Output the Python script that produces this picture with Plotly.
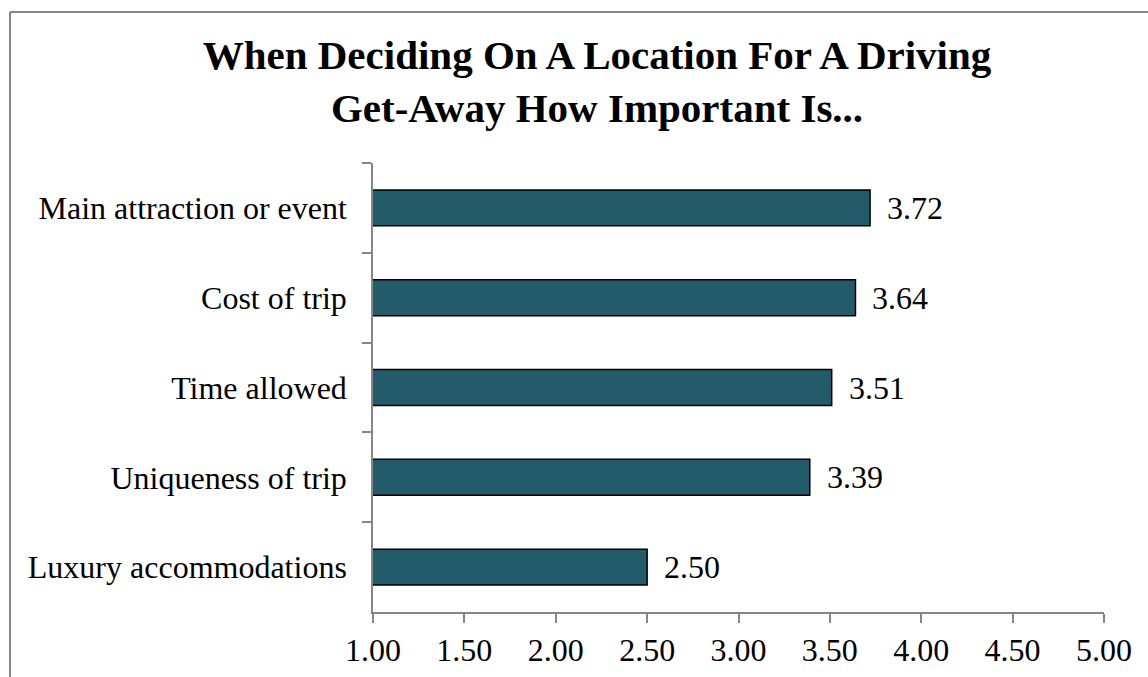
import plotly.graph_objects as go

categories = ["Main attraction or event", "Cost of trip", "Time allowed",
              "Uniqueness of trip", "Luxury accommodations"]
values = [3.72, 3.64, 3.51, 3.39, 2.50]
x_ticks = [1.0, 1.5, 2.0, 2.5, 3.0, 3.5, 4.0, 4.5, 5.0]
title_text = "When Deciding On A Location For A Driving<br>Get-Away How Important Is..."

W, H = 1148, 677
FONT = "Liberation Serif, Times New Roman, serif"
AXIS_GRAY = "#868686"

fig = go.Figure()
fig.add_trace(go.Bar(
    x=values, y=categories, orientation="h", width=0.4,
    marker=dict(color="#235B6B", line=dict(color="#000000", width=1.5)),
    hoverinfo="x+y",
))

for c, v in zip(categories, values):
    fig.add_annotation(x=v, y=c, xref="x", yref="y", text=f"{v:.2f}",
                       showarrow=False, xanchor="left", xshift=15,
                       font=dict(family=FONT, size=32, color="#000000"))

bx, by = 10 / W, 1 - 12 / H
fig.update_layout(
    width=W, height=H,
    margin=dict(l=0, r=0, t=0, b=0, autoexpand=False),
    paper_bgcolor="white", plot_bgcolor="white",
    showlegend=False,
    font=dict(family=FONT, size=32, color="#000000"),
    title=dict(text=title_text, x=597 / W, xanchor="center",
               y=1 - 69 / H, yanchor="top", yref="paper",
               font=dict(family=FONT, size=41, color="#000000", weight="bold")),
    xaxis=dict(domain=[373 / W, 1104 / W], range=[1, 5],
               tickvals=x_ticks, ticktext=[f"{t:.2f}" for t in x_ticks],
               showgrid=False, zeroline=False,
               showline=True, linecolor=AXIS_GRAY, linewidth=1.5,
               ticks="outside", ticklen=9, tickcolor=AXIS_GRAY, tickwidth=1.5,
               ticklabelstandoff=0,
               tickfont=dict(family=FONT, size=32)),
    yaxis=dict(domain=[1 - 612 / H, 1 - 163 / H], autorange="reversed",
               type="category", tickson="boundaries",
               showgrid=False, zeroline=False,
               showline=True, linecolor=AXIS_GRAY, linewidth=1.5,
               ticks="outside", ticklen=9, tickcolor=AXIS_GRAY, tickwidth=1.5,
               ticklabelstandoff=18,
               tickfont=dict(family=FONT, size=32)),
    shapes=[
        dict(type="line", xref="paper", yref="paper", x0=bx, x1=1.0, y0=by, y1=by,
             line=dict(color=AXIS_GRAY, width=2)),
        dict(type="line", xref="paper", yref="paper", x0=bx, x1=bx, y0=0.0, y1=by,
             line=dict(color=AXIS_GRAY, width=2)),
    ],
)

fig.write_html("out.html", config={"displayModeBar": False},
               post_script="document.body.style.margin='0';document.body.style.overflow='hidden';")
